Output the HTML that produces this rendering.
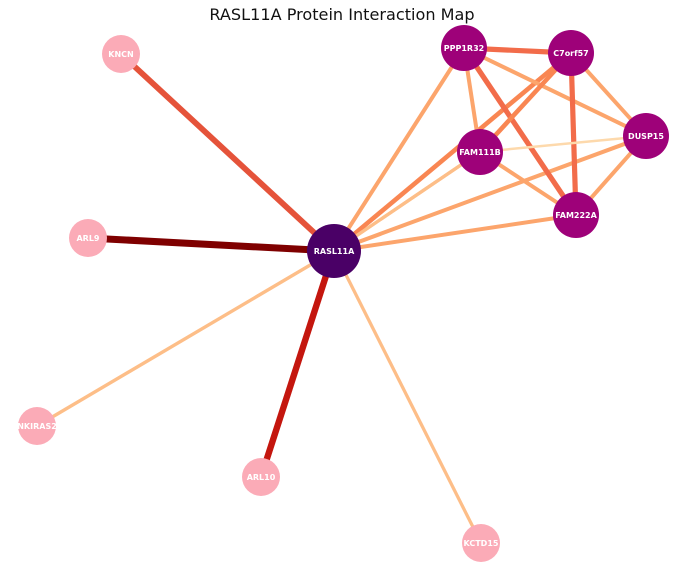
<!DOCTYPE html>
<html><head><meta charset="utf-8"><style>
body{margin:0;background:#fff;}
svg{display:block;font-family:"DejaVu Sans","Liberation Sans",sans-serif;}
</style></head><body>
<svg id="chart" width="683" height="575" viewBox="0 0 683 575">
<text x="342" y="20" text-anchor="middle" font-size="16.1" fill="#111">RASL11A Protein Interaction Map</text>
<g id="edges"></g>
<g id="nodes"></g>
</svg>
<script>
const nodeNames = ["RASL11A","PPP1R32","C7orf57","DUSP15","FAM111B","FAM222A","KNCN","ARL9","NKIRAS2","ARL10","KCTD15"];
const nodeX = [334,464,571,646,480,576,121,88,37,261,481];
const nodeY = [251,48,53,136,152,215,54,238,426,477,543];
const nodeGroup = [0,1,1,1,1,1,2,2,2,2,2];
const edgeSource = [0,0,0,0,0,0,0,0,0,0,0,1,1,1,1,2,2,2,4,4,3];
const edgeTarget = [6,7,9,8,10,1,2,4,3,5,4,2,5,3,4,4,5,3,3,5,5];
const edgeScore = [0.8,1.0,0.9,0.4,0.38,0.5,0.6,0.38,0.5,0.5,0.38,0.7,0.7,0.5,0.5,0.6,0.7,0.5,0.25,0.5,0.5];
const groupFill = ["#4a0066","#9e0179","#fbabb7"];
const groupR = [27,23,19];
const svgNS="http://www.w3.org/2000/svg";
function edgeColor(s){
  if(s>=0.95) return "#7f0000";
  if(s>=0.85) return "#c4160e";
  if(s>=0.75) return "#e5533a";
  if(s>=0.65) return "#f26c4a";
  if(s>=0.55) return "#f98652";
  if(s>=0.45) return "#fca56c";
  if(s>=0.3) return "#fdbe88";
  return "#fdd9ac";
}
function edgeWidth(s){return 1+6*s;}
const eg=document.getElementById("edges");
edgeSource.forEach((s,i)=>{
  const t=edgeTarget[i];
  const l=document.createElementNS(svgNS,"line");
  l.setAttribute("x1",nodeX[s]);l.setAttribute("y1",nodeY[s]);
  l.setAttribute("x2",nodeX[t]);l.setAttribute("y2",nodeY[t]);
  l.setAttribute("stroke",edgeColor(edgeScore[i]));
  l.setAttribute("stroke-width",edgeWidth(edgeScore[i]));
  
  
  eg.appendChild(l);
});
const ng=document.getElementById("nodes");
nodeNames.forEach((n,i)=>{
  const g=document.createElementNS(svgNS,"g");
  
  
  const c=document.createElementNS(svgNS,"circle");
  c.setAttribute("cx",nodeX[i]);c.setAttribute("cy",nodeY[i]);
  c.setAttribute("r",groupR[nodeGroup[i]]);c.setAttribute("fill",groupFill[nodeGroup[i]]);
  
  
  const tx=document.createElementNS(svgNS,"text");
  tx.setAttribute("x",nodeX[i]);tx.setAttribute("y",nodeY[i]+3);
  tx.setAttribute("text-anchor","middle");tx.setAttribute("font-size","8");
  tx.setAttribute("font-weight","bold");tx.setAttribute("fill","#fff");
  tx.textContent=n;
  
  
  g.appendChild(c);g.appendChild(tx);ng.appendChild(g);
});
</script>
</body></html>
